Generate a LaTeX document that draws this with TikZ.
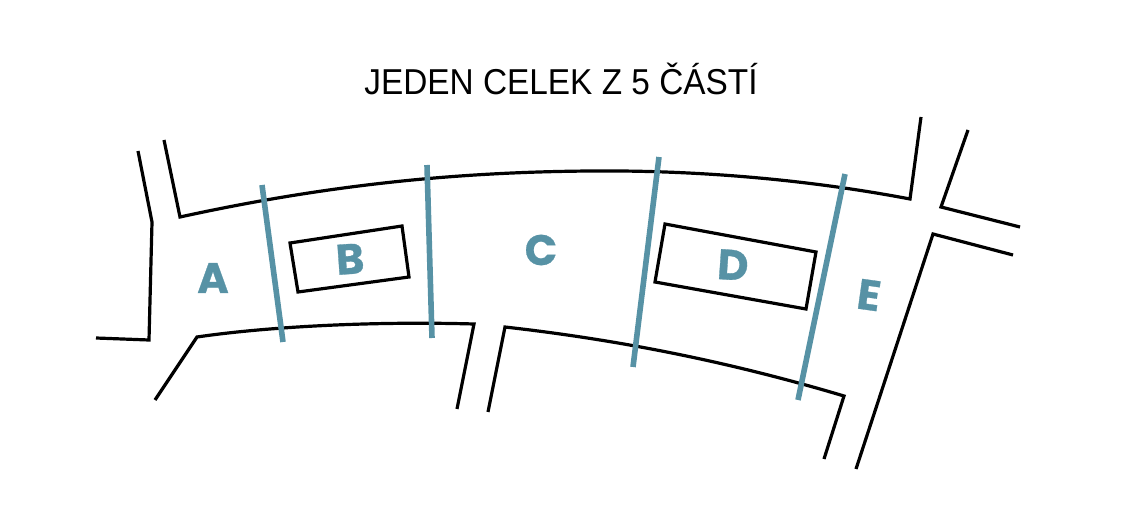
\documentclass[tikz,border=0pt]{standalone}
\usepackage{fontspec}
\setmainfont{Liberation Sans}
\newfontfamily\partfont{Poppins}[UprightFont=* Bold,FakeBold=0.7]
\definecolor{partteal}{HTML}{5792A5}
\tikzset{
  road/.style={line width=2.4pt,miter limit=10},
  divider/.style={line width=4.2pt,color=partteal},
  partlabel/.style={font=\partfont\fontsize{32}{32}\selectfont,text=partteal,inner sep=0pt}
}
\begin{document}
\begin{tikzpicture}[x=0.75pt,y=-0.75pt]
    \useasboundingbox (0,0) rectangle (1122,531);
    \node[font=\fontsize{27}{27}\selectfont,inner sep=0pt,xscale=0.927] (title) at (561,79) {JEDEN CELEK Z 5 ČÁSTÍ};
    % streets
    \draw[road] (138,151) -- (152,222) -- (149,340) -- (96,338);
    \draw[road] (164,140) -- (180,217) .. controls (340,182) and (470,172) .. (590,171) .. controls (700,170) and (810,180) .. (910,199) -- (921,117);
    \draw[road] (968,130) -- (941,207) -- (1020,227);
    \draw[road] (1013,255) -- (933,234) -- (856,469);
    \draw[road] (155,400) -- (197,337) .. controls (265,327) and (370,321) .. (474,324) -- (457,409);
    \draw[road] (488,412) -- (505,327) .. controls (620,340) and (730,362) .. (844,396) -- (824,459);
    % buildings
    \draw[road] (290,243) -- (402,226) -- (409,277) -- (298,292) -- cycle;
    \draw[road] (665,224) -- (816,252) -- (806,309) -- (655,282) -- cycle;
    % dividers
    \draw[divider] (262,185) -- (283,342);
    \draw[divider] (427,165) -- (432,338);
    \draw[divider] (659,157) -- (633,367);
    \draw[divider] (845,174) -- (798,400);
    \node[partlabel] (partA) at (213,278) {A};
    \node[partlabel,rotate=4] (partB) at (350,259) {B};
    \node[partlabel] (partC) at (541,250) {C};
    \node[partlabel,rotate=-4] (partD) at (733,265) {D};
    \node[partlabel,rotate=-8] (partE) at (869,295) {E};
\end{tikzpicture}
\end{document}
